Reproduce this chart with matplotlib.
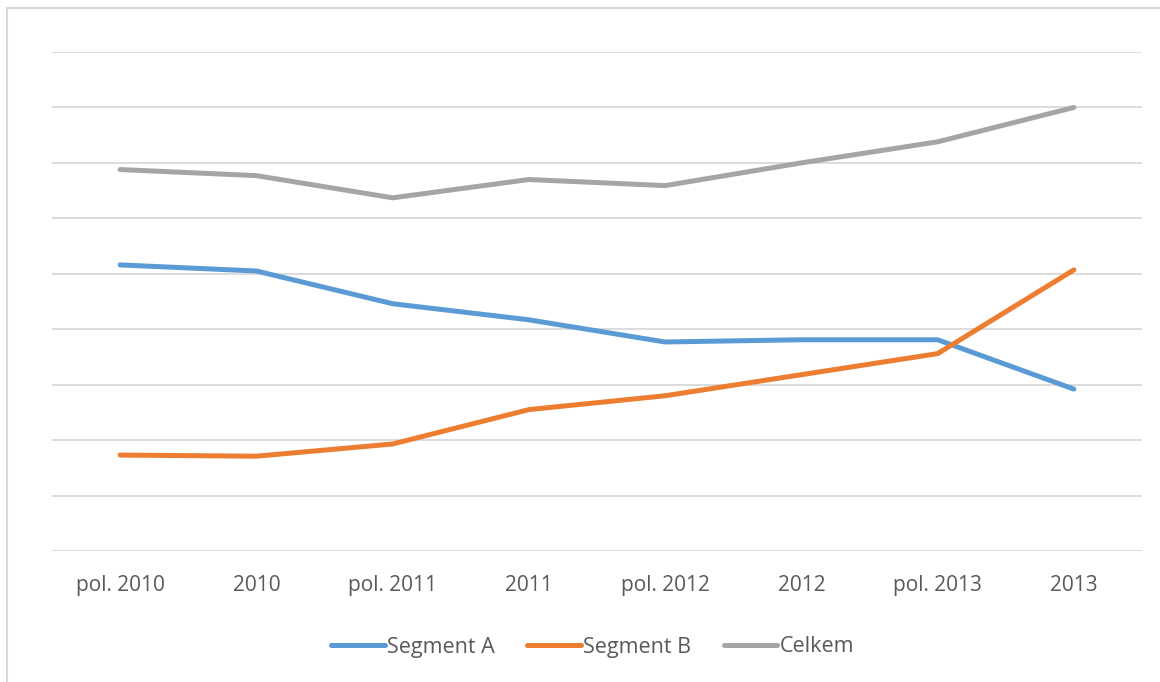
import matplotlib.pyplot as plt
from matplotlib.lines import Line2D

plt.rcParams['font.family'] = ['Open Sans', 'DejaVu Sans']

# data (gridline units, no y labels shown)
categories = ['pol. 2010', '2010', 'pol. 2011', '2011', 'pol. 2012', '2012', 'pol. 2013', '2013']
segment_a = [5.16, 5.05, 4.46, 4.17, 3.77, 3.81, 3.81, 2.92]
segment_b = [1.73, 1.71, 1.93, 2.55, 2.80, 3.18, 3.56, 5.07]
celkem = [6.88, 6.77, 6.37, 6.70, 6.59, 7.00, 7.38, 8.00]

series = [('Segment A', segment_a, '#5B9BD5'),
          ('Segment B', segment_b, '#ED7D31'),
          ('Celkem', celkem, '#A5A5A5')]

fig = plt.figure(figsize=(11.6, 6.82), dpi=100)
W, H = 1160, 682
ax = fig.add_axes([52 / W, 1 - 551 / H, (1142 - 52) / W, (551 - 52) / H])

x = range(len(categories))
for name, vals, col in series:
    ax.plot(x, vals, color=col, lw=3.6, label=name, solid_capstyle='round', zorder=3)

ax.set_xlim(-0.5, len(categories) - 0.5)
ax.set_ylim(0, 9)
ax.set_yticks(range(0, 10))
ax.yaxis.grid(True, color='#d9d9d9', lw=1.3)
ax.set_yticklabels([])
ax.tick_params(axis='y', length=0)
ax.tick_params(axis='x', length=0, pad=17, labelsize=15, labelcolor='#595959')
ax.set_xticks(list(x))
ax.set_xticklabels(categories)
for s in ax.spines.values():
    s.set_visible(False)

# chart area frame (only top and left visible)
fig.add_artist(Line2D([7 / W, 1], [1 - 8 / H, 1 - 8 / H], color='#d9d9d9', lw=1.5))
fig.add_artist(Line2D([7 / W, 7 / W], [0, 1 - 8 / H], color='#d9d9d9', lw=1.5))

leg = fig.legend(loc='center', bbox_to_anchor=(0.511, 1 - 647 / H), ncol=3, frameon=False,
                 fontsize=15.5, handlelength=2.5, handletextpad=0.1, columnspacing=1.5)
for t in leg.get_texts():
    t.set_color('#595959')

fig.savefig('out.png', dpi=100)
